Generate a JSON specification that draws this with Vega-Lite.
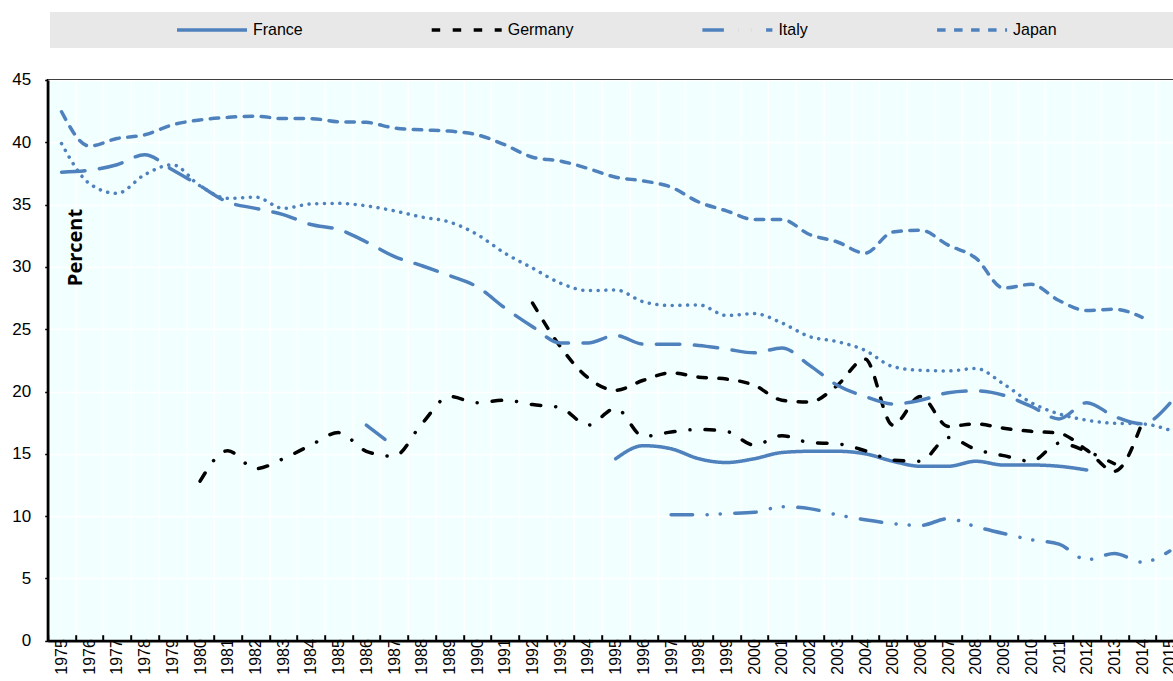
{
  "$schema": "https://vega.github.io/schema/vega-lite/v6.json",
  "width": 1136,
  "height": 560.7,
  "autosize": "none",
  "padding": {"left": 47.7, "top": 80, "right": 0, "bottom": 40},
  "background": "#ffffff",
  "data": {"values": [
    {"year": 1975, "Japan": 42.45, "Series 5": 39.9, "Series 6": 37.6},
    {"year": 1976, "Japan": 39.7, "Series 5": 36.7, "Series 6": 37.75},
    {"year": 1977, "Japan": 40.3, "Series 5": 35.9, "Series 6": 38.2},
    {"year": 1978, "Japan": 40.6, "Series 5": 37.4, "Series 6": 39.0},
    {"year": 1979, "Japan": 41.4, "Series 5": 38.2, "Series 6": 37.8},
    {"year": 1980, "Japan": 41.8, "Series 5": 36.5, "Series 6": 36.5, "Series 7": 12.8},
    {"year": 1981, "Japan": 42.0, "Series 5": 35.5, "Series 6": 35.2, "Series 7": 15.25},
    {"year": 1982, "Japan": 42.1, "Series 5": 35.6, "Series 6": 34.7, "Series 7": 13.8},
    {"year": 1983, "Japan": 41.9, "Series 5": 34.7, "Series 6": 34.2, "Series 7": 14.6},
    {"year": 1984, "Japan": 41.9, "Series 5": 35.05, "Series 6": 33.4, "Series 7": 15.7},
    {"year": 1985, "Japan": 41.65, "Series 5": 35.1, "Series 6": 33.0, "Series 7": 16.7},
    {"year": 1986, "Japan": 41.6, "Series 5": 34.9, "Series 6": 32.0, "Series 7": 15.2, "Series 8": 17.3},
    {"year": 1987, "Japan": 41.15, "Series 5": 34.5, "Series 6": 30.85, "Series 7": 14.8, "Series 8": 15.6},
    {"year": 1988, "Japan": 41.0, "Series 5": 34.0, "Series 6": 30.1, "Series 7": 17.4},
    {"year": 1989, "Japan": 40.9, "Series 5": 33.6, "Series 6": 29.3, "Series 7": 19.6},
    {"year": 1990, "Japan": 40.6, "Series 5": 32.6, "Series 6": 28.4, "Series 7": 19.1},
    {"year": 1991, "Japan": 39.8, "Series 5": 31.1, "Series 6": 26.7, "Series 7": 19.3},
    {"year": 1992, "Germany": 27.1, "Japan": 38.8, "Series 5": 29.9, "Series 6": 25.2, "Series 7": 18.95},
    {"year": 1993, "Germany": 23.6, "Japan": 38.5, "Series 5": 28.7, "Series 6": 23.9, "Series 7": 18.7},
    {"year": 1994, "Germany": 21.1, "Japan": 37.9, "Series 5": 28.1, "Series 6": 23.9, "Series 7": 17.3},
    {"year": 1995, "France": 14.6, "Germany": 20.1, "Japan": 37.2, "Series 5": 28.15, "Series 6": 24.5, "Series 7": 18.65},
    {"year": 1996, "France": 15.65, "Germany": 20.9, "Japan": 36.9, "Series 5": 27.2, "Series 6": 23.8, "Series 7": 16.4},
    {"year": 1997, "France": 15.4, "Germany": 21.5, "Italy": 10.1, "Japan": 36.4, "Series 5": 26.9, "Series 6": 23.8, "Series 7": 16.75},
    {"year": 1998, "France": 14.6, "Germany": 21.15, "Italy": 10.1, "Japan": 35.2, "Series 5": 26.95, "Series 6": 23.7, "Series 7": 16.95},
    {"year": 1999, "France": 14.3, "Germany": 21.0, "Italy": 10.2, "Japan": 34.5, "Series 5": 26.1, "Series 6": 23.4, "Series 7": 16.8},
    {"year": 2000, "France": 14.6, "Germany": 20.5, "Italy": 10.3, "Japan": 33.8, "Series 5": 26.25, "Series 6": 23.1, "Series 7": 15.7},
    {"year": 2001, "France": 15.1, "Germany": 19.3, "Italy": 10.75, "Japan": 33.8, "Series 5": 25.5, "Series 6": 23.5, "Series 7": 16.45},
    {"year": 2002, "France": 15.2, "Germany": 19.15, "Italy": 10.6, "Japan": 32.6, "Series 5": 24.4, "Series 6": 22.1, "Series 7": 15.9},
    {"year": 2003, "France": 15.2, "Germany": 20.5, "Italy": 10.1, "Japan": 32.0, "Series 5": 24.0, "Series 6": 20.5, "Series 7": 15.8},
    {"year": 2004, "France": 15.0, "Germany": 22.6, "Italy": 9.7, "Japan": 31.1, "Series 5": 23.3, "Series 6": 19.6, "Series 7": 15.25},
    {"year": 2005, "France": 14.4, "Germany": 17.3, "Italy": 9.4, "Japan": 32.8, "Series 5": 22.0, "Series 6": 19.0, "Series 7": 14.5},
    {"year": 2006, "France": 14.0, "Germany": 19.6, "Italy": 9.25, "Japan": 32.95, "Series 5": 21.7, "Series 6": 19.3, "Series 7": 14.4},
    {"year": 2007, "France": 14.0, "Germany": 17.2, "Italy": 9.8, "Japan": 31.75, "Series 5": 21.65, "Series 6": 19.9, "Series 7": 16.3},
    {"year": 2008, "France": 14.4, "Germany": 17.4, "Italy": 9.15, "Japan": 30.7, "Series 5": 21.85, "Series 6": 20.05, "Series 7": 15.35},
    {"year": 2009, "France": 14.1, "Germany": 17.05, "Italy": 8.6, "Japan": 28.3, "Series 5": 20.6, "Series 6": 19.7, "Series 7": 14.85},
    {"year": 2010, "France": 14.1, "Germany": 16.8, "Italy": 8.1, "Japan": 28.6, "Series 5": 19.1, "Series 6": 18.8, "Series 7": 14.4},
    {"year": 2011, "France": 14.0, "Germany": 16.65, "Italy": 7.75, "Japan": 27.3, "Series 5": 18.2, "Series 6": 17.8, "Series 7": 15.85},
    {"year": 2012, "France": 13.7, "Germany": 15.3, "Italy": 6.5, "Japan": 26.5, "Series 5": 17.7, "Series 6": 19.1, "Series 7": 15.2},
    {"year": 2013, "Germany": 13.6, "Italy": 7.0, "Japan": 26.6, "Series 5": 17.45, "Series 6": 18.0, "Series 7": 14.2},
    {"year": 2014, "Germany": 17.5, "Italy": 6.3, "Japan": 25.95, "Series 5": 17.4, "Series 6": 17.4},
    {"year": 2015, "Italy": 7.2, "Series 5": 16.9, "Series 6": 19.05}
  ]},
  "transform": [
    {"fold": ["France", "Germany", "Italy", "Japan", "Series 5", "Series 6", "Series 7", "Series 8"], "as": ["series", "value"]}
  ],
  "mark": {"type": "line", "strokeWidth": 3.5, "strokeCap": "round", "strokeJoin": "round", "interpolate": "monotone"},
  "encoding": {
    "x": {
      "field": "year", "type": "ordinal",
      "scale": {"type": "point", "padding": 0.5},
      "axis": {
        "title": null, "labelAngle": -90, "labelAlign": "right", "labelBaseline": "middle",
        "labelFont": "Liberation Sans", "labelFontSize": 16, "labelColor": "#000", "labelPadding": 4,
        "domainColor": "#000", "domainWidth": 2.5, "tickColor": "#000", "tickWidth": 2, "tickSize": -6,
        "tickOffset": -13.85, "labelOffset": 13.85,
        "grid": true, "gridColor": "#ffffff", "gridWidth": 1.5
      }
    },
    "y": {
      "field": "value", "type": "quantitative",
      "scale": {"domain": [0, 45], "nice": false},
      "axis": {
        "values": [0, 5, 10, 15, 20, 25, 30, 35, 40, 45],
        "title": "Percent", "titleFont": "Open Sans", "titleFontWeight": "bold", "titleFontSize": 20,
        "titleColor": "#000", "titleAngle": 270, "titleX": 28, "titleY": 167, "titleAlign": "center", "titleBaseline": "middle",
        "labelFont": "Liberation Sans", "labelFontSize": 17, "labelColor": "#000", "labelPadding": 14,
        "domainColor": "#000", "domainWidth": 2.5, "tickColor": "#000", "tickWidth": 1.5, "tickSize": 3,
        "grid": true, "gridColor": "#ffffff", "gridWidth": 1.5
      }
    },
    "color": {
      "field": "series", "type": "nominal",
      "scale": {
        "domain": ["France", "Germany", "Italy", "Japan", "Series 5", "Series 6", "Series 7", "Series 8"],
        "range": ["#4F81BD", "#000000", "#4F81BD", "#4F81BD", "#4F81BD", "#4F81BD", "#000000", "#4F81BD"]
      },
      "legend": {"values": ["France", "Germany", "Italy", "Japan"], "title": "\u00a0",
        "labelExpr": "datum.label == 'Japan' ? 'Japan\u00a0\u00a0\u00a0\u00a0\u00a0\u00a0\u00a0\u00a0\u00a0\u00a0\u00a0\u00a0\u00a0\u00a0\u00a0\u00a0\u00a0\u00a0\u00a0\u00a0\u00a0\u00a0\u00a0\u00a0\u00a0\u200b' : datum.label"}
    },
    "strokeDash": {
      "field": "series", "type": "nominal",
      "scale": {
        "domain": ["France", "Germany", "Italy", "Japan", "Series 5", "Series 6", "Series 7", "Series 8"],
        "range": [[1, 0], [8.5, 12.5], [21.5, 14.5, 0.1, 13, 0.1, 14.5], [8.5, 8.5], [0.1, 7.6], [23.5, 14.5], [9.5, 15, 0.1, 15], [23.5, 14.5]]
      },
      "legend": {"values": ["France", "Germany", "Italy", "Japan"], "title": "\u00a0",
        "labelExpr": "datum.label == 'Japan' ? 'Japan\u00a0\u00a0\u00a0\u00a0\u00a0\u00a0\u00a0\u00a0\u00a0\u00a0\u00a0\u00a0\u00a0\u00a0\u00a0\u00a0\u00a0\u00a0\u00a0\u00a0\u00a0\u00a0\u00a0\u00a0\u00a0\u200b' : datum.label"}
    }
  },
  "config": {
    "view": {"fill": "#F2FFFF", "stroke": "#000000", "strokeWidth": 2},
    "legend": {
      "orient": "none", "legendX": 2.3, "legendY": -68, "direction": "horizontal",
      "titleOrient": "left", "titlePadding": 117, "titleFontSize": 16, "titleFont": "Liberation Sans",
      "fillColor": "#E8E8E8", "padding": 8, "clipHeight": 20,
      "symbolType": "stroke", "symbolSize": 4900, "symbolStrokeWidth": 3.5,
      "labelFont": "Liberation Sans", "labelFontSize": 16, "labelColor": "#000", "labelOffset": 4, "labelLimit": 400,
      "columnPadding": 126.7
    }
  }
}
